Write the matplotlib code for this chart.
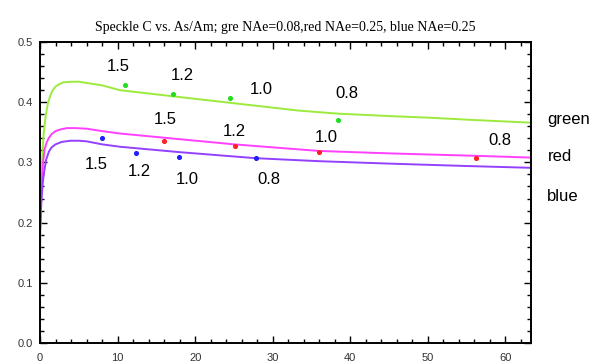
import matplotlib
matplotlib.use("Agg")
import matplotlib.pyplot as plt
from matplotlib.ticker import MultipleLocator

# curves
green_x = [0.03, 0.1, 0.2, 0.3, 0.45, 0.7, 1.0, 1.3, 1.6, 2.0, 2.5, 3.0, 4.0, 5.0, 6, 8, 10.3,
           17, 24.5, 33.4, 38.4, 45, 50.6, 55, 63.3]
green_y = [0.15, 0.22, 0.28, 0.31, 0.345, 0.374, 0.397, 0.410, 0.419, 0.426, 0.430, 0.433, 0.434,
           0.434, 0.432, 0.428, 0.420, 0.410, 0.399, 0.386, 0.381, 0.377, 0.374, 0.371, 0.366]
red_x = [0.05, 0.15, 0.25, 0.38, 0.6, 0.85, 1.15, 1.5, 2, 2.7, 3.5, 4.5, 6, 8, 10.3,
         16, 25, 36, 45, 56, 63.3]
red_y = [0.19, 0.24, 0.27, 0.298, 0.322, 0.333, 0.341, 0.347, 0.352, 0.355, 0.357, 0.357, 0.356,
         0.352, 0.348, 0.341, 0.330, 0.319, 0.315, 0.311, 0.308]
blue_x = [0.05, 0.2, 0.35, 0.5, 0.8, 1.15, 1.5, 2, 2.8, 3.9, 5, 6, 8, 10.3,
          18, 27.8, 36, 45, 55, 63.3]
blue_y = [0.20, 0.24, 0.265, 0.282, 0.305, 0.318, 0.325, 0.330, 0.334, 0.336, 0.336, 0.335, 0.330,
          0.326, 0.317, 0.307, 0.302, 0.298, 0.294, 0.291]

# measured points
gpt_x = [10.96, 17.19, 24.55, 38.47]
gpt_y = [0.429, 0.414, 0.407, 0.370]
rpt_x = [16.03, 25.1, 35.95, 56.2]
rpt_y = [0.336, 0.327, 0.318, 0.307]
bpt_x = [8.0, 12.34, 17.9, 27.9]
bpt_y = [0.340, 0.316, 0.309, 0.308]

pt_labels = ["1.5", "1.2", "1.0", "0.8"]
glab_x = [10.08, 18.34, 28.5, 39.6]
glab_y = [0.459, 0.444, 0.421, 0.415]
rlab_x = [16.16, 25.06, 36.9, 59.25]
rlab_y = [0.372, 0.351, 0.342, 0.336]
blab_x = [7.2, 12.85, 18.98, 29.56]
blab_y = [0.297, 0.285, 0.272, 0.272]

side_labels = ["green", "red", "blue"]
side_x = [68.2, 67.1, 67.4]
side_y = [0.372, 0.309, 0.243]

fig = plt.figure(figsize=(6.07, 3.61), dpi=100)
ax = fig.add_axes([40 / 607, 18 / 361, 491 / 607, 301 / 361])

ax.plot(green_x, green_y, color="#9ceb3c", lw=1.4)
ax.plot(red_x, red_y, color="#ff40ff", lw=1.4)
ax.plot(blue_x, blue_y, color="#9440ff", lw=1.4)

ax.scatter(gpt_x, gpt_y, s=7, color="#22dd22", zorder=3)
ax.scatter(rpt_x, rpt_y, s=7, color="#ff2020", zorder=3)
ax.scatter(bpt_x, bpt_y, s=7, color="#2020ff", zorder=3)

for xs, ys in [(glab_x, glab_y), (rlab_x, rlab_y), (blab_x, blab_y)]:
    for t, x, y in zip(pt_labels, xs, ys):
        ax.text(x, y, t, ha="center", va="center", fontsize=12,
                family="Liberation Sans")
for t, x, y in zip(side_labels, side_x, side_y):
    ax.text(x, y, t, ha="center", va="center", fontsize=12,
            family="Liberation Sans", clip_on=False)

ax.set_xlim(0, 63.3)
ax.set_ylim(0, 0.5)
ax.xaxis.set_major_locator(MultipleLocator(10))
ax.xaxis.set_minor_locator(MultipleLocator(2))
ax.yaxis.set_major_locator(MultipleLocator(0.1))
ax.yaxis.set_minor_locator(MultipleLocator(0.02))
ax.yaxis.set_major_formatter(plt.FormatStrFormatter("%.1f"))
ax.tick_params(which="both", direction="in", top=True, right=True,
               labelsize=8, labelcolor="#333333", width=1)
ax.tick_params(which="major", length=5)
ax.tick_params(which="minor", length=3)
ax.tick_params(axis="x", pad=7)
ax.tick_params(axis="y", pad=5)
for lab in ax.get_xticklabels() + ax.get_yticklabels():
    lab.set_family("Liberation Sans")
for s in ax.spines.values():
    s.set_linewidth(1.4)

ax.set_title("Speckle C vs. As/Am; gre NAe=0.08,red NAe=0.25, blue NAe=0.25",
             family="Liberation Serif", fontsize=10, pad=8)

fig.savefig("out.png", dpi=100)
